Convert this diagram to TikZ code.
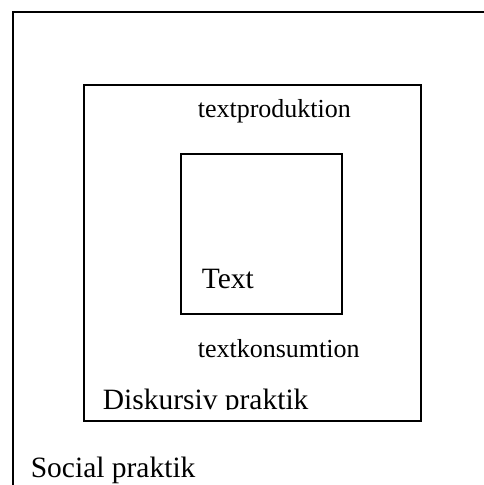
\documentclass[tikz,border=0pt]{standalone}
\usepackage{fontspec}
\setmainfont{Liberation Serif}
\usepackage{tikz}

\begin{document}
\begin{tikzpicture}[x=1pt,y=-1pt,line width=1.6pt,
    box/.style={draw,inner sep=0,outer sep=0},
    lbl/.style={inner sep=0,anchor=base west,font=\fontsize{26}{30}\selectfont},
    biglbl/.style={inner sep=0,anchor=base west,font=\fontsize{29.5}{34}\selectfont}]
        \useasboundingbox (0,0) rectangle (484,485);
        \clip (0,0) rectangle (484,485);
        \coordinate (sw) at (13,490);
        \coordinate (ne) at (490,12);
        \draw (sw) |- (ne);
        \node[box,minimum width=337pt,minimum height=336pt,anchor=north west] (diskursiv) at (84,85) {};
        \node[box,minimum width=161pt,minimum height=160pt,anchor=north west] (text) at (181,154) {};
        \node[lbl] (prod) at (197,117) {textproduktion};
        \node[lbl] (kons) at (197,357) {textkonsumtion};
        \node[biglbl] (textlbl) at (201,288) {Text};
        \begin{scope}
          \clip (84,85) rectangle (421,409.5);
          \node[biglbl] (disklbl) at (102,409) {Diskursiv praktik};
        \end{scope}
        \node[biglbl] (social) at (30,477) {Social praktik};
      \end{tikzpicture}
\end{document}
